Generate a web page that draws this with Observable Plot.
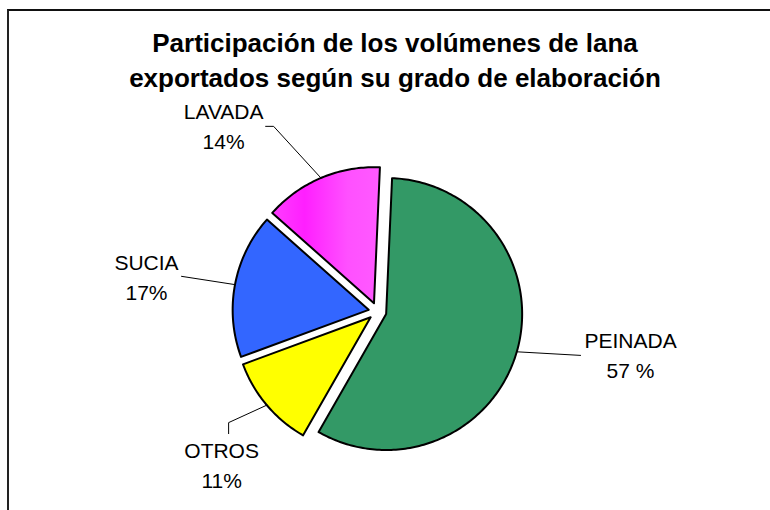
<!DOCTYPE html>
<html><head><meta charset="utf-8">
<script src="https://cdn.jsdelivr.net/npm/d3@7"></script>
<script src="https://cdn.jsdelivr.net/npm/@observablehq/plot@0.6"></script>
<style>
html,body{margin:0;padding:0;background:#fff;}
#page{position:relative;width:770px;height:510px;overflow:hidden;font-family:"Liberation Sans",Arial,sans-serif;background:#fff;}
#frame{position:absolute;left:7px;top:9px;width:900px;height:700px;border-top:2px solid #111;border-left:2px solid #222;}
#title{position:absolute;left:0;top:26px;width:790px;text-align:center;font-size:26px;font-weight:bold;line-height:35px;color:#000;}
#chart{position:absolute;left:0;top:0;}
</style></head><body>
<div id="page"><div id="frame"></div><div id="title">Participación de los volúmenes de lana<br>exportados según su grado de elaboración</div><div id="chart"></div></div>
<script>
// ---- data ----
const categories = ["PEINADA", "OTROS", "SUCIA", "LAVADA"];
const shares = [57, 11, 17, 14];
const shareLabels = ["57 %", "11%", "17%", "14%"];
const sliceColors = ["#339966", "#ffff00", "#3366ff", "url(#lavadaFill)"];

// ---- layout (not data) ----
const W = 770, H = 510, CX = 377, CY = 311, R = 136, EXPLODE = 9, START_DEG = 2.5;
const labelLayout = {
  PEINADA: {angle: 99.4, dist: 256.5, leader: [[-50, -2]]},
  OTROS:   {angle: 225.7, dist: 217.8, leader: [[7, 30], [7, 41]]},
  SUCIA:   {angle: 278.9, dist: 233.8, leader: [[35, -1]]},
  LAVADA:  {angle: 320.5, dist: 241.9, leader: [[42, -1.5], [50, -1.5]]}
};

const rad = d => d * Math.PI / 180;
const polar = (a, r) => [r * Math.sin(a), r * Math.cos(a)];

const arcs = d3.pie().sort(null).startAngle(rad(START_DEG)).endAngle(rad(START_DEG) + 2 * Math.PI)(shares);

const slicePts = [];
const leaderPts = [];
const labelData = [];
arcs.forEach((a, i) => {
  const k = categories[i];
  const mid = (a.startAngle + a.endAngle) / 2;
  const [ox, oy] = polar(mid, EXPLODE);
  slicePts.push({k, x: ox, y: oy});
  const n = Math.max(2, Math.ceil((a.endAngle - a.startAngle) / rad(1)));
  for (let j = 0; j <= n; j++) {
    const t = a.startAngle + (a.endAngle - a.startAngle) * j / n;
    const [px, py] = polar(t, R);
    slicePts.push({k, x: ox + px, y: oy + py});
  }
  slicePts.push({k, x: ox, y: oy});

  const L = labelLayout[k];
  const [lx, ly] = polar(rad(L.angle), L.dist);
  labelData.push({k, x: lx, y: ly, text: k + "\n" + shareLabels[i]});
  L.leader.forEach(([dx, dy]) => leaderPts.push({k, x: lx + dx, y: ly + dy}));
  const [mx, my] = polar(mid, EXPLODE + R);
  leaderPts.push({k, x: mx, y: my});
});

const marks = categories.map((k, i) => Plot.line(slicePts.filter(d => d.k === k), {
  x: "x", y: "y", fill: sliceColors[i], stroke: "#000", strokeWidth: 2, strokeLinejoin: "round"
}));
marks.push(Plot.line(leaderPts, {x: "x", y: "y", z: "k", stroke: "#000", strokeWidth: 1}));
marks.push(Plot.text(labelData, {
  x: "x", y: "y", text: "text", fontSize: 21, lineHeight: 1.43, fill: "#000",
  fontFamily: "Liberation Sans, Arial, sans-serif"
}));

const svg = Plot.plot({
  width: W, height: H, margin: 0,
  x: {domain: [-CX, W - CX], axis: null},
  y: {domain: [CY - H, CY], axis: null},
  style: {background: "transparent", overflow: "visible"},
  marks
});

const defs = d3.select(svg).insert("defs", ":first-child");
const g = defs.append("linearGradient").attr("id", "lavadaFill")
  .attr("x1", "0").attr("x2", "1").attr("y1", "0").attr("y2", "0");
[[0, "#ff3dff"], [0.3, "#ff1fff"], [0.7, "#ff50ff"], [1, "#ff5aff"]].forEach(([o, c]) =>
  g.append("stop").attr("offset", o).attr("stop-color", c));

document.getElementById("chart").appendChild(svg);
</script>
</body></html>
